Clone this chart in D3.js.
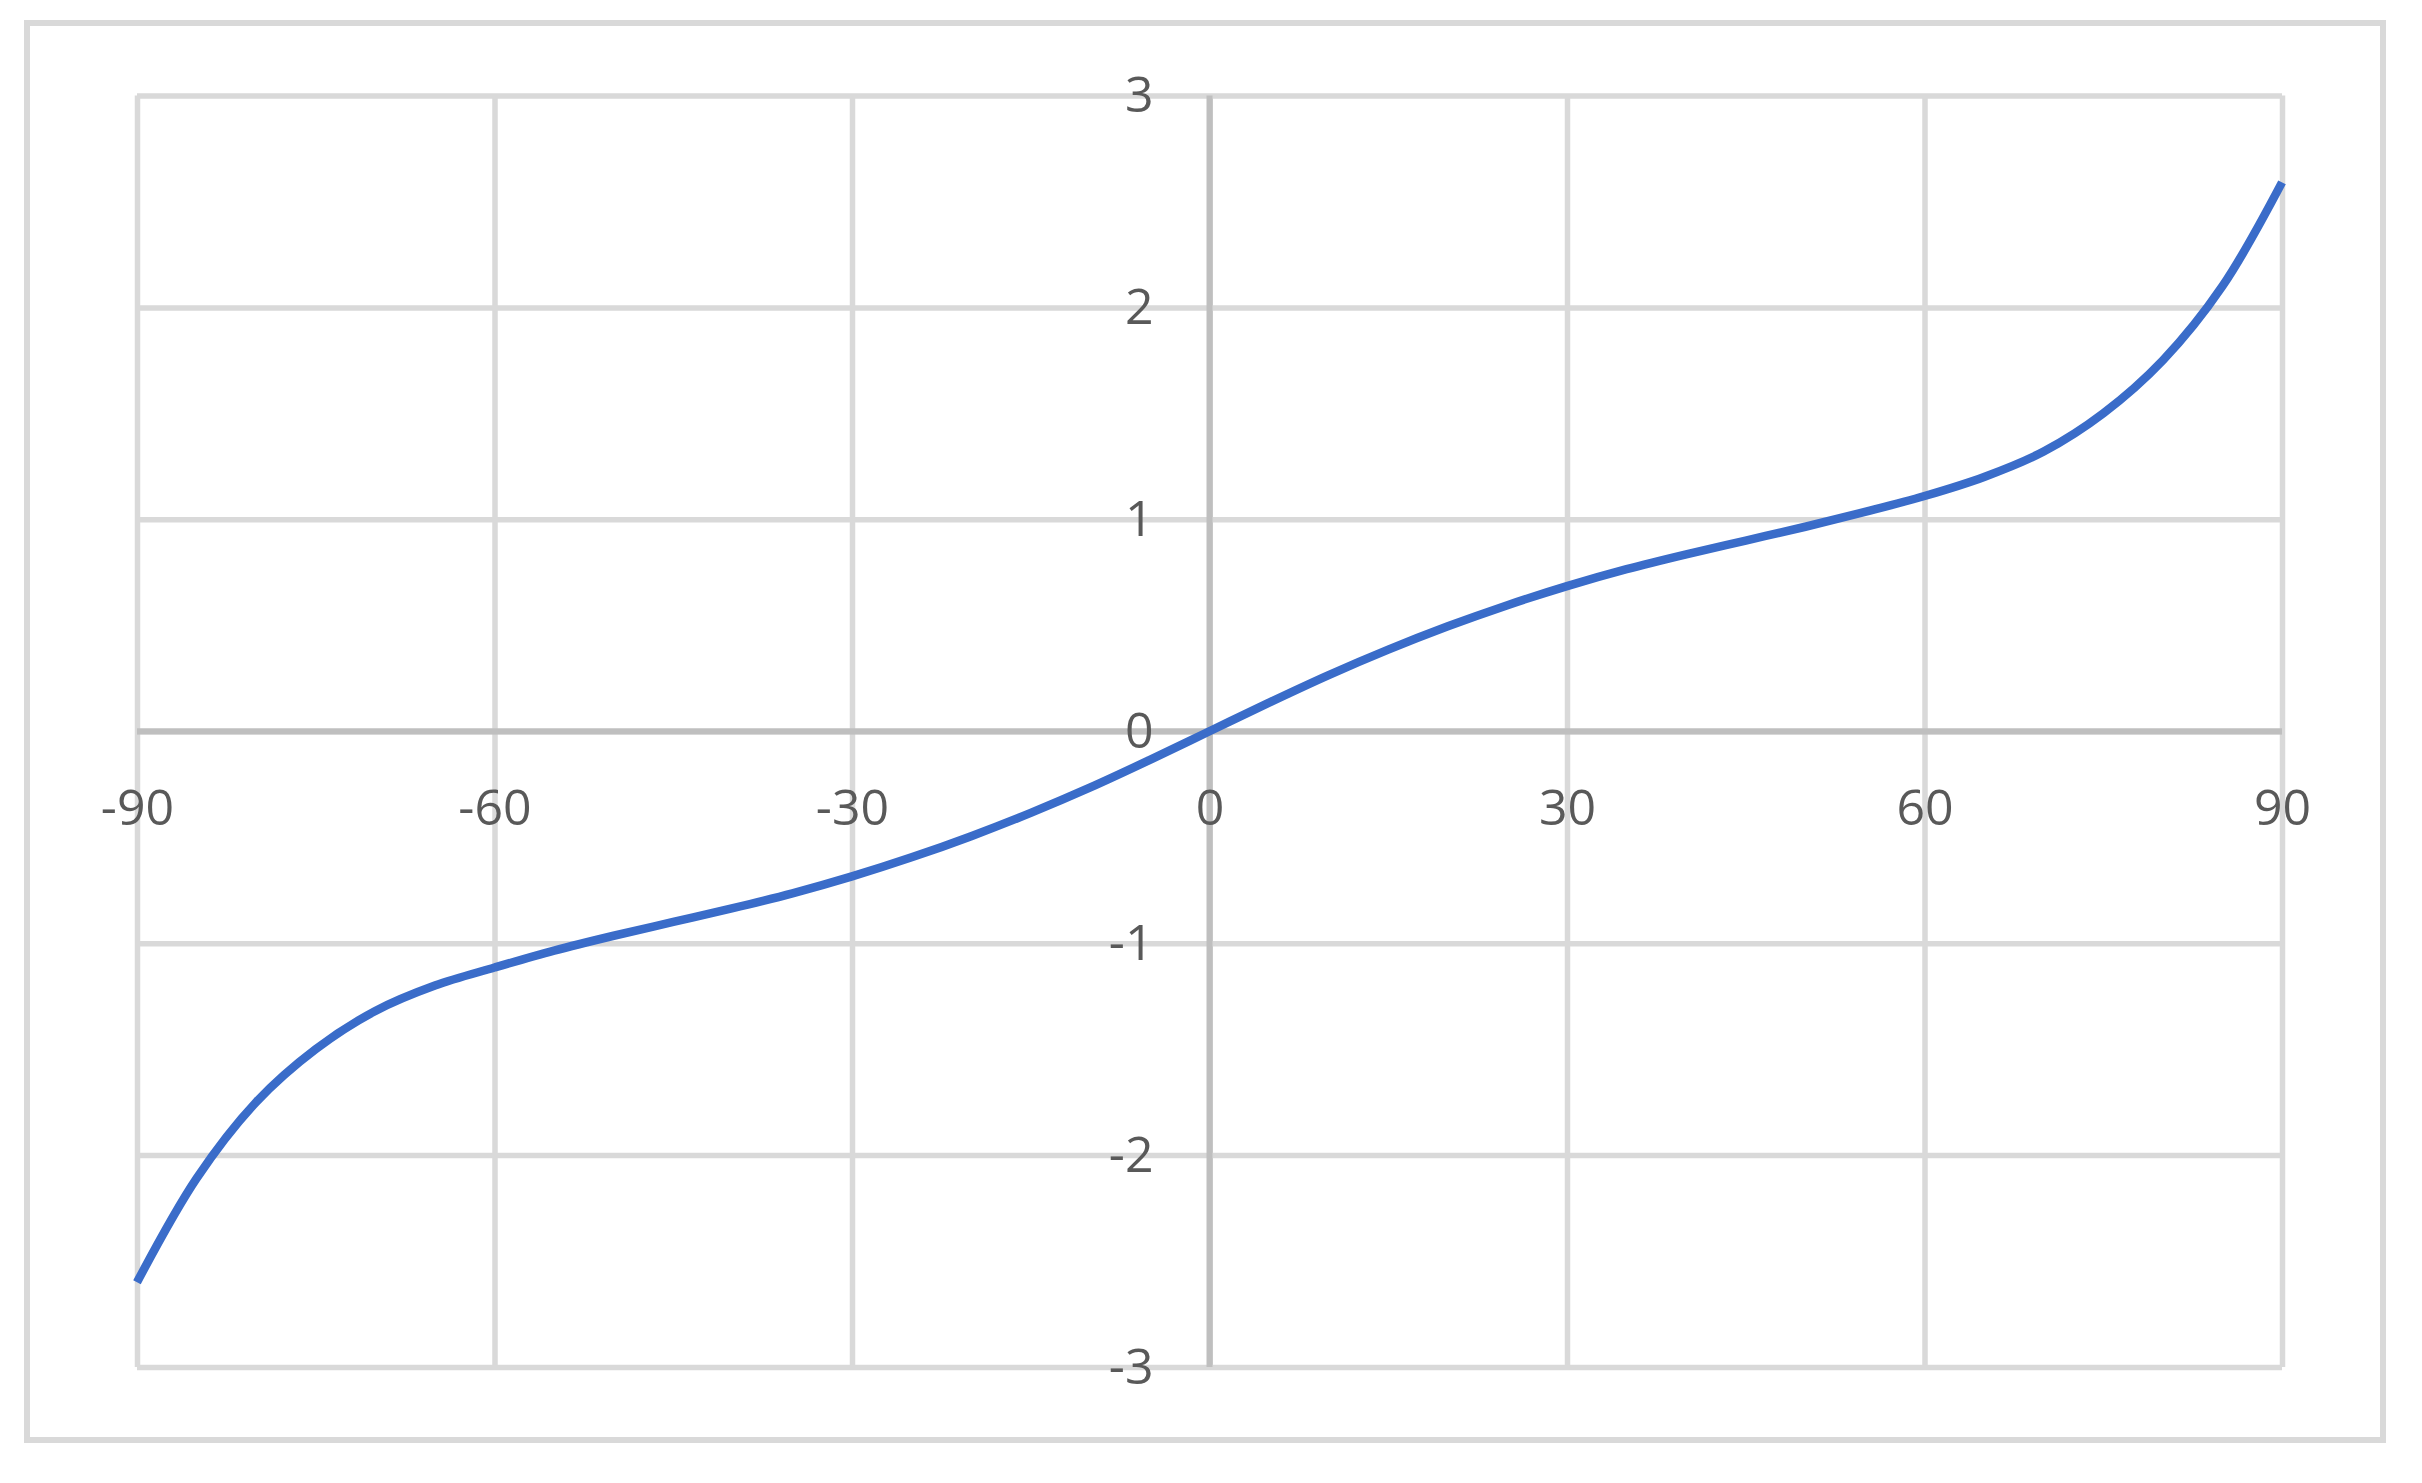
<!DOCTYPE html>
<html>
<head>
<meta charset="utf-8">
<script src="https://cdn.jsdelivr.net/npm/d3@7"></script>
<style>
  html, body { margin: 0; padding: 0; background: #ffffff; }
  svg { display: block; }
</style>
</head>
<body>
<svg id="chart" width="2422" height="1483"></svg>
<script>
// ---- data ----
const angles = [-90,-85,-80,-75,-70,-65,-60,-55,-50,-45,-40,-35,-30,-25,-20,-15,-10,-5,
                0,5,10,15,20,25,30,35,40,45,50,55,60,65,70,75,80,85,90];
const values = [-2.60,-2.11,-1.75,-1.50,-1.32,-1.20,-1.115,-1.035,-0.965,-0.90,-0.835,-0.765,-0.685,-0.595,-0.495,-0.385,-0.265,-0.135,
                0,0.135,0.265,0.385,0.495,0.595,0.685,0.765,0.835,0.90,0.965,1.035,1.11,1.20,1.32,1.50,1.75,2.10,2.59];
const xTicks = [-90,-60,-30,0,30,60,90];
const yTicks = [-3,-2,-1,0,1,2,3];

// ---- layout ----
const W = 2422, H = 1483;
const plot = {left: 137, right: 2282, top: 95.5, bottom: 1367};
const svg = d3.select("#chart");

svg.append("rect").attr("x", 27).attr("y", 23).attr("width", 2383 - 27).attr("height", 1440 - 23)
  .attr("fill", "#ffffff").attr("stroke", "#d9d9d9").attr("stroke-width", 6);

const x = d3.scaleLinear().domain([-90, 90]).range([plot.left, plot.right]);
const y = d3.scaleLinear().domain([-3, 3]).range([plot.bottom, plot.top]);

const font = "'Open Sans', 'Segoe UI', sans-serif";

// vertical gridlines
const gx = svg.append("g").attr("transform", `translate(0,${plot.bottom})`)
  .call(d3.axisBottom(x).tickValues(xTicks).tickSize(-(plot.bottom - plot.top)).tickFormat(""));
gx.select(".domain").remove();
gx.selectAll(".tick line").attr("stroke", d => d === 0 ? "#bfbfbf" : "#d9d9d9").attr("stroke-width", 5.5);

// horizontal gridlines
const gy = svg.append("g").attr("transform", `translate(${plot.left},0)`)
  .call(d3.axisLeft(y).tickValues(yTicks).tickSize(-(plot.right - plot.left)).tickFormat(""));
gy.select(".domain").remove();
gy.selectAll(".tick line").attr("stroke", d => d === 0 ? "#bfbfbf" : "#d9d9d9").attr("stroke-width", 5.5);

// zero axis lines, darker
svg.append("line").attr("x1", x(-90)).attr("x2", x(90)).attr("y1", y(0)).attr("y2", y(0))
  .attr("stroke", "#bfbfbf").attr("stroke-width", 6);
svg.append("line").attr("x1", x(0)).attr("x2", x(0)).attr("y1", y(3)).attr("y2", y(-3))
  .attr("stroke", "#bfbfbf").attr("stroke-width", 6);

// x labels along y=0
const ax = svg.append("g").attr("transform", `translate(0,${y(0)})`)
  .call(d3.axisBottom(x).tickValues(xTicks).tickSize(0).tickFormat(d => d < 0 ? "-" + Math.abs(d) : String(d)));
ax.select(".domain").remove();
ax.selectAll("text").attr("y", 94).attr("dy", 0)
  .attr("font-family", font).attr("font-size", 50).attr("fill", "#595959");

// y labels along x=0
const ay = svg.append("g").attr("transform", `translate(${x(0)},0)`)
  .call(d3.axisLeft(y).tickValues(yTicks).tickSize(0).tickFormat(d => d < 0 ? "-" + Math.abs(d) : String(d)));
ay.select(".domain").remove();
ay.selectAll("text").attr("x", -56).attr("dy", 0).attr("y", 16).attr("text-anchor", "end")
  .attr("font-family", font).attr("font-size", 50).attr("fill", "#595959");

// curve
const pts = angles.map((a, i) => [a, values[i]]);
const line = d3.line().x(d => x(d[0])).y(d => y(d[1])).curve(d3.curveCatmullRom.alpha(0.5));
svg.append("path").datum(pts).attr("d", line)
  .attr("fill", "none").attr("stroke", "#3a6cc9").attr("stroke-width", 8.5)
  .attr("stroke-linecap", "butt").attr("stroke-linejoin", "round");
</script>
</body>
</html>
